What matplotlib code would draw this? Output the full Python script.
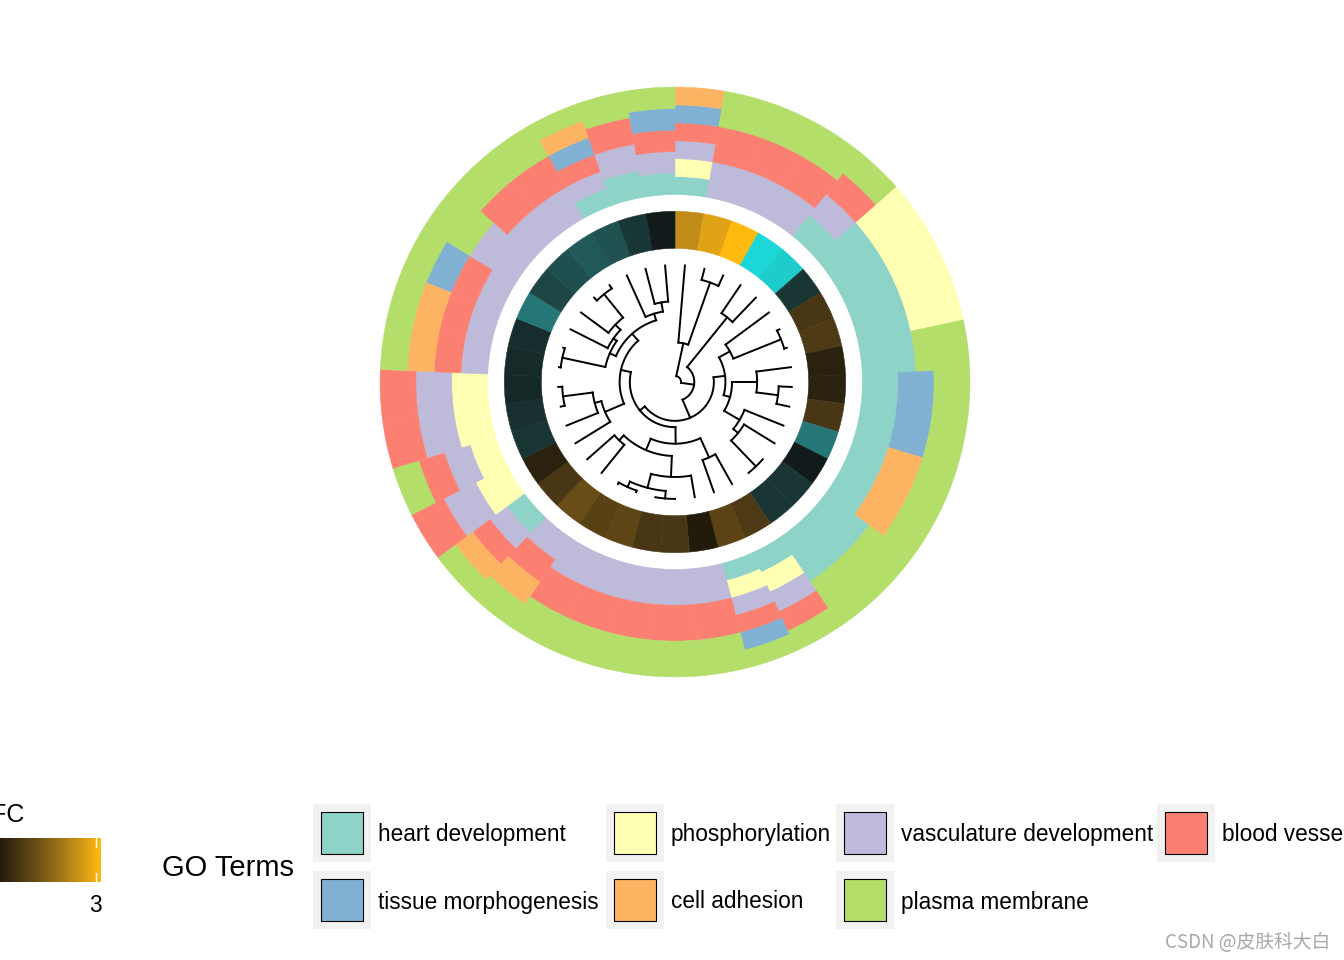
import numpy as np
import matplotlib
matplotlib.use('Agg')
import matplotlib.pyplot as plt
from matplotlib.colors import ListedColormap, Normalize
from matplotlib.patches import Rectangle

plt.rcParams['font.family'] = ['Liberation Sans', 'DejaVu Sans']

# GO terms (process order) and Set3 colours
terms = ['heart development', 'phosphorylation', 'vasculature development',
         'blood vessel development', 'tissue morphogenesis', 'cell adhesion',
         'plasma membrane']
term_colors = ['#8DD3C7', '#FFFFB3', '#BEBADA', '#FB8072', '#80B1D3', '#FDB462', '#B3DE69']

# terms of each gene (index into terms), genes in plotting order (clockwise from top)
gene_terms = [
    [0, 1, 2, 3, 4, 5], [2, 3, 6], [2, 3, 6], [2, 3, 6], [0, 2, 3, 6],
    [0, 1], [0, 1], [0, 1], [0, 6], [0, 4, 6],
    [0, 4, 6], [0, 5, 6], [0, 5, 6], [0, 6], [0, 6],
    [0, 1, 2, 3, 6], [0, 1, 2, 3, 4, 6], [2, 3, 6], [2, 3, 6], [2, 3, 6],
    [2, 3, 6], [2, 3, 6], [2, 3, 5, 6], [0, 2, 3, 5, 6], [1, 2, 3],
    [1, 2, 3, 6], [1, 2, 3], [1, 2, 3], [2, 3, 5, 6], [2, 3, 5, 6],
    [2, 3, 4, 6], [2, 6], [2, 3, 6], [2, 3, 6], [0, 2, 3, 4, 5, 6],
    [0, 2, 3, 6], [0, 2, 3, 4, 6],
]
logfc = [2.31, 2.66, 3.0, -2.57, -2.45, -0.67, 0.90, 0.98, 0.51, 0.51,
         0.90, -1.48, -0.30, -0.67, -0.67, 0.95, 1.13, 0.36, 0.90, 0.90,
         1.15, 1.10, 1.30, 0.90, 0.51, -0.67, -0.60, -0.48, -0.50, -0.55,
         -1.48, -0.88, -1.00, -1.12, -1.05, -0.70, -0.30]

# logFC colours: high, mid, low (gradient in Lab space)
lfc_col = ['#FFB90F', '#000000', '#00FFFF']

# ring positions (GOCluster defaults)
lfc_space, lfc_width = -0.5, -1.6
term_space, term_width = -2.1, -5.3

M = np.array([[0.4124, 0.3576, 0.1805], [0.2126, 0.7152, 0.0722], [0.0193, 0.1192, 0.9505]])
WP = np.array([0.95047, 1.0, 1.08883])


def to_lab(hexc):
    c = np.array([int(hexc[i:i + 2], 16) / 255 for i in (1, 3, 5)])
    lin = np.where(c <= 0.04045, c / 12.92, ((c + 0.055) / 1.055) ** 2.4)
    xyz = M @ lin / WP
    f = np.where(xyz > (6 / 29) ** 3, np.cbrt(xyz), xyz / (3 * (6 / 29) ** 2) + 4 / 29)
    return np.array([116 * f[1] - 16, 500 * (f[0] - f[1]), 200 * (f[1] - f[2])])


def to_rgb(lab):
    fy = (lab[0] + 16) / 116
    f = np.array([fy + lab[1] / 500, fy, fy - lab[2] / 200])
    xyz = np.where(f > 6 / 29, f ** 3, 3 * (6 / 29) ** 2 * (f - 4 / 29)) * WP
    lin = np.clip(np.linalg.solve(M, xyz), 0, 1)
    return np.clip(np.where(lin <= 0.0031308, 12.92 * lin, 1.055 * lin ** (1 / 2.4) - 0.055), 0, 1)


hi, mid, lo = [to_lab(c) for c in lfc_col]
cols = []
for t in np.linspace(0, 1, 256):
    if t < 0.5:
        cols.append(to_rgb(lo + (mid - lo) * t / 0.5))
    else:
        cols.append(to_rgb(mid + (hi - mid) * (t - 0.5) / 0.5))
cmap = ListedColormap(cols)
lim = max(abs(min(logfc)), abs(max(logfc)))
norm = Normalize(-lim, lim)

fig = plt.figure(figsize=(13.44, 9.6), dpi=100)
R = 305
ax = fig.add_axes([(675 - R) / 1344, (960 - 382 - R) / 960, 2 * R / 1344, 2 * R / 960],
                  projection='polar')
ax.set_theta_zero_location('N')
ax.set_theta_direction(-1)
ax.set_ylim(3.48, -5.6)
ax.axis('off')

N = len(logfc)
width = 2 * np.pi / N
theta = (np.arange(N) + 0.5) * width

# logFC ring
fc = cmap(norm(logfc))
ax.bar(theta, lfc_width - lfc_space, width=width, bottom=lfc_space,
       color=fc, edgecolor=fc, linewidth=0.4)

# GO term rings
for i, ts in enumerate(gene_terms):
    step = (term_width - term_space) / len(ts)
    for k, t in enumerate(ts):
        ax.bar(theta[i], step, width=width, bottom=term_space + k * step,
               color=term_colors[t], edgecolor=term_colors[t], linewidth=0.4)

# dendrogram: average linkage on term membership + logFC
feat = np.zeros((N, len(terms) + 1))
for i, ts in enumerate(gene_terms):
    feat[i, ts] = 1
feat[:, -1] = logfc
D = np.sqrt(((feat[:, None, :] - feat[None, :, :]) ** 2).sum(-1))

groups = [[i] for i in range(N)]
pos = list(theta)
hgt = [0.0] * N
while len(groups) > 1:
    d = [D[np.ix_(groups[j], groups[j + 1])].mean() for j in range(len(groups) - 1)]
    j = int(np.argmin(d))
    h = d[j]
    for k in (j, j + 1):
        ax.plot([pos[k], pos[k]], [hgt[k], h], color='black', lw=1.4)
    arc = np.linspace(pos[j], pos[j + 1], 60)
    ax.plot(arc, np.full(60, h), color='black', lw=1.4)
    groups[j:j + 2] = [groups[j] + groups[j + 1]]
    pos[j:j + 2] = [(pos[j] + pos[j + 1]) / 2]
    hgt[j:j + 2] = [h]

# legend overlay in pixel coordinates
lg = fig.add_axes([0, 0, 1, 1])
lg.set_xlim(0, 1344)
lg.set_ylim(960, 0)
lg.axis('off')

lg.text(162, 868, 'GO Terms', fontsize=21, ha='left', va='center')
key_x = [313, 606, 836, 1157]
key_y = [804, 871]
for n, name in enumerate(terms):
    r, c = divmod(n, 4)
    x0, y0 = key_x[c], key_y[r]
    lg.add_patch(Rectangle((x0, y0), 58, 58, facecolor='#F2F2F2', edgecolor='none'))
    lg.add_patch(Rectangle((x0 + 8, y0 + 8), 42, 42, facecolor=term_colors[n],
                           edgecolor='black', linewidth=0.8))
    lg.text(x0 + 65, y0 + 31, name, fontsize=16.3, ha='left', va='center')

# logFC colourbar (partly outside the figure, as in the original)
lo_v, hi_v = min(logfc), max(logfc)
cb = fig.add_axes([-115 / 1344, (960 - 882) / 960, 216 / 1344, 44 / 960])
vals = np.linspace(lo_v, hi_v, 300)
cb.imshow(vals[None, :], cmap=cmap, norm=norm, aspect='auto',
          extent=[lo_v, hi_v, 0, 1])
inset = (hi_v - lo_v) * 0.025
for v in (lo_v + inset, hi_v - inset):
    cb.plot([v, v], [0, 0.2], color='white', lw=1)
    cb.plot([v, v], [0.8, 1], color='white', lw=1)
cb.set_xlim(lo_v, hi_v)
cb.set_ylim(0, 1)
cb.axis('off')
px = lambda v: -115 + (v - lo_v) / (hi_v - lo_v) * 216
lg.text(px(hi_v - inset), 905, str(int(round(hi_v))), fontsize=16.3, ha='center', va='center')
lg.text(px(lo_v + inset), 905, str(int(round(lo_v))), fontsize=16.3, ha='center', va='center')
lg.text(-8, 815, 'logFC', fontsize=18, ha='center', va='center')

fig.text(1330 / 1344, 1 - 942 / 960, 'CSDN @皮肤科大白', ha='right', va='center',
         color='#A8A8A8', fontsize=13.5, family=['Noto Sans CJK SC', 'DejaVu Sans'])

fig.savefig('out.png', dpi=100)
